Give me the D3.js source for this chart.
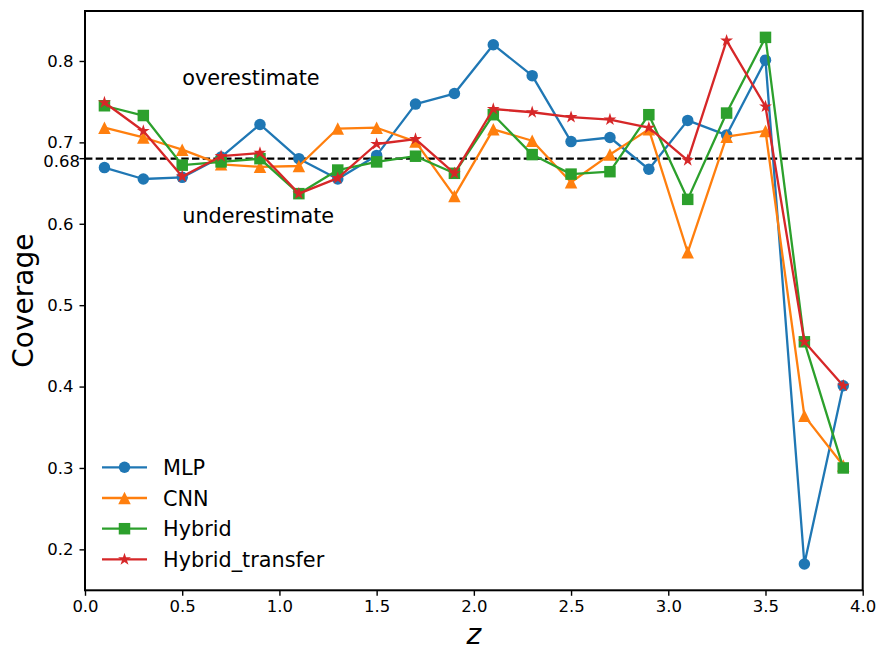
<!DOCTYPE html>
<html>
<head>
<meta charset="utf-8">
<script src="https://cdn.jsdelivr.net/npm/d3@7"></script>
<style>
  html, body { margin: 0; padding: 0; background: #fff; }
  svg { display: block; font-family: "DejaVu Sans", sans-serif; }
</style>
</head>
<body>
<svg id="chart" width="880" height="650"></svg>
<script>
// ---- data ----
const zValues = [0.1, 0.3, 0.5, 0.7, 0.9, 1.1, 1.3, 1.5, 1.7, 1.9, 2.1, 2.3, 2.5, 2.7, 2.9, 3.1, 3.3, 3.5, 3.7, 3.9];
const mlpValues = [0.669, 0.655, 0.657, 0.682, 0.722, 0.680, 0.655, 0.684, 0.747, 0.760, 0.820, 0.782, 0.701, 0.706, 0.667, 0.727, 0.709, 0.801, 0.182, 0.401];
const cnnValues = [0.718, 0.706, 0.691, 0.673, 0.670, 0.671, 0.717, 0.718, 0.701, 0.634, 0.716, 0.702, 0.651, 0.685, 0.716, 0.565, 0.707, 0.714, 0.364, 0.303];
const hybridValues = [0.745, 0.733, 0.672, 0.676, 0.680, 0.637, 0.666, 0.676, 0.683, 0.662, 0.734, 0.685, 0.661, 0.664, 0.734, 0.630, 0.736, 0.829, 0.455, 0.300];
const transferValues = [0.749, 0.714, 0.658, 0.683, 0.687, 0.637, 0.656, 0.698, 0.704, 0.662, 0.741, 0.737, 0.731, 0.728, 0.718, 0.678, 0.825, 0.744, 0.455, 0.401];
const seriesNames = ["MLP", "CNN", "Hybrid", "Hybrid_transfer"];
const xTicks = [0.0, 0.5, 1.0, 1.5, 2.0, 2.5, 3.0, 3.5, 4.0];
const yTicks = [0.2, 0.3, 0.4, 0.5, 0.6, 0.7, 0.8];
const refLevel = 0.68;
const refLabel = "0.68";
const annotations = [
  { text: "overestimate", x: 0.5, y: 0.770 },
  { text: "underestimate", x: 0.5, y: 0.601 }
];

// ---- styles ----
const colors = ["#1f77b4", "#ff7f0e", "#2ca02c", "#d62728"];
const markers = ["circle", "triangle", "square", "star"];
const markerSizes = [11.5, 12.5, 11.5, 13.5];
const allValues = [mlpValues, cnnValues, hybridValues, transferValues];

const plotL = 85, plotR = 862.7, plotT = 11, plotB = 590.3;
const svg = d3.select("#chart");

const x = d3.scaleLinear().domain([0, 4]).range([plotL, plotR]);
const y = d3.scaleLinear().domain([0.1497, 0.8614]).range([plotB, plotT]);

function markerPath(type, s) {
  const h = s / 2;
  if (type === "circle") {
    return d3.symbol(d3.symbolCircle, Math.PI * h * h)();
  }
  if (type === "triangle") {
    return `M0,${-h}L${h},${h}L${-h},${h}Z`;
  }
  if (type === "square") {
    return `M${-h},${-h}H${h}V${h}H${-h}Z`;
  }
  const pts = [];
  for (let i = 0; i < 10; i++) {
    const r = i % 2 === 0 ? h : h * 0.381966;
    const a = -Math.PI / 2 + i * Math.PI / 5;
    pts.push([r * Math.cos(a), r * Math.sin(a)]);
  }
  return "M" + pts.map(p => p[0].toFixed(2) + "," + p[1].toFixed(2)).join("L") + "Z";
}

// ---- reference line ----
svg.append("line")
  .attr("x1", plotL).attr("x2", plotR)
  .attr("y1", y(refLevel)).attr("y2", y(refLevel))
  .attr("stroke", "#000").attr("stroke-width", 2.4)
  .attr("stroke-dasharray", "7.4,3.3");

// ---- annotations ----
annotations.forEach(a => {
  svg.append("text")
    .attr("x", x(a.x)).attr("y", y(a.y))
    .attr("font-size", 20.8).attr("fill", "#000")
    .text(a.text);
});

// ---- series ----
const line = d3.line().x((d, i) => x(zValues[i])).y(d => y(d));
allValues.forEach((vals, k) => {
  const g = svg.append("g");
  g.append("path")
    .attr("d", line(vals))
    .attr("fill", "none")
    .attr("stroke", colors[k])
    .attr("stroke-width", 2.3)
    .attr("stroke-linejoin", "round");
  g.selectAll("path.m")
    .data(vals)
    .enter().append("path")
    .attr("class", "m")
    .attr("d", markerPath(markers[k], markerSizes[k]))
    .attr("transform", (d, i) => `translate(${x(zValues[i])},${y(d)})`)
    .attr("fill", colors[k]);
});

// ---- axes ----
const xAxis = d3.axisBottom(x).tickValues(xTicks).tickFormat(d3.format(".1f")).tickSizeOuter(0).tickSize(5.5).tickPadding(4);
const gx = svg.append("g").attr("transform", `translate(0,${plotB})`).call(xAxis);
gx.select(".domain").remove();
gx.selectAll("line").attr("stroke", "#000").attr("stroke-width", 1.4);
gx.selectAll("text").attr("font-size", 16.5).attr("fill", "#000").attr("font-family", "DejaVu Sans");

const yAxis = d3.axisLeft(y).tickValues(yTicks).tickFormat(d3.format(".1f")).tickSizeOuter(0).tickSize(5.5).tickPadding(6);
const gy = svg.append("g").attr("transform", `translate(${plotL},0)`).call(yAxis);
gy.select(".domain").remove();
gy.selectAll("line").attr("stroke", "#000").attr("stroke-width", 1.4);
gy.selectAll("text").attr("font-size", 16.5).attr("fill", "#000").attr("font-family", "DejaVu Sans");

// 0.68 label
svg.append("line")
  .attr("x1", plotL - 5.5).attr("x2", plotL)
  .attr("y1", y(refLevel)).attr("y2", y(refLevel))
  .attr("stroke", "#000").attr("stroke-width", 1.4);
svg.append("text")
  .attr("x", 80).attr("y", y(refLevel) + 2.3 + 6)
  .attr("text-anchor", "end").attr("font-size", 16.5)
  .text(refLabel);

// frame
svg.append("rect")
  .attr("x", plotL).attr("y", plotT)
  .attr("width", plotR - plotL).attr("height", plotB - plotT)
  .attr("fill", "none").attr("stroke", "#000").attr("stroke-width", 2);

// axis labels
svg.append("text")
  .attr("transform", `translate(33,${(plotT + plotB) / 2}) rotate(-90)`)
  .attr("text-anchor", "middle").attr("font-size", 28)
  .text("Coverage");
svg.append("text")
  .attr("x", (plotL + plotR) / 2).attr("y", 644)
  .attr("text-anchor", "middle").attr("font-size", 28).attr("font-style", "italic")
  .text("z");

// ---- legend ----
const legX1 = 102, legX2 = 147, legY0 = 467.3, legDy = 30.7;
seriesNames.forEach((name, k) => {
  const yy = legY0 + k * legDy;
  svg.append("line")
    .attr("x1", legX1).attr("x2", legX2).attr("y1", yy).attr("y2", yy)
    .attr("stroke", colors[k]).attr("stroke-width", 2.3);
  svg.append("path")
    .attr("d", markerPath(markers[k], markerSizes[k]))
    .attr("transform", `translate(${(legX1 + legX2) / 2},${yy})`)
    .attr("fill", colors[k]);
  svg.append("text")
    .attr("x", 163).attr("y", yy + 7.5)
    .attr("font-size", 20.8).attr("fill", "#000")
    .text(name);
});
</script>
</body>
</html>
